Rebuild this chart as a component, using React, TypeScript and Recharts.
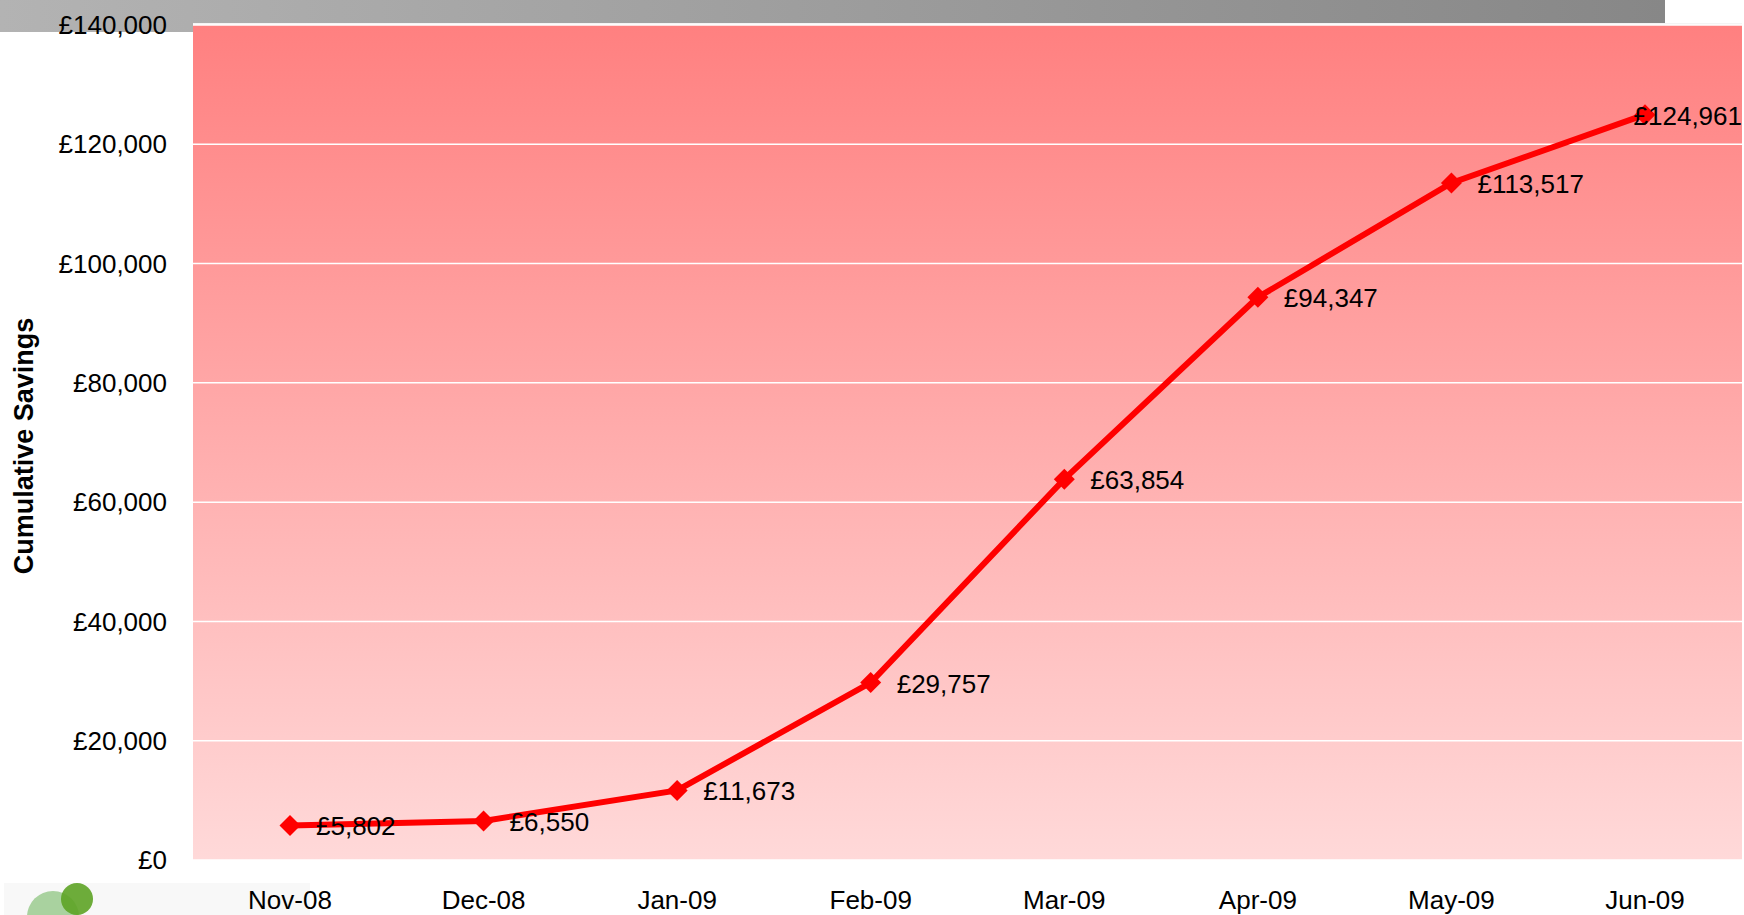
import React from 'react';
import {
  LineChart,
  Line,
  XAxis,
  YAxis,
  CartesianGrid,
  LabelList,
} from 'recharts';

const months = ['Nov-08', 'Dec-08', 'Jan-09', 'Feb-09', 'Mar-09', 'Apr-09', 'May-09', 'Jun-09'];
const savings = [5802, 6550, 11673, 29757, 63854, 94347, 113517, 124961];
const yTicks = [0, 20000, 40000, 60000, 80000, 100000, 120000, 140000];

const data = months.map((month, i) => ({ month, savings: savings[i] }));

const W = 1744;
const H = 915;
const PLOT_LEFT = 193;
const PLOT_TOP = 25;
const PLOT_RIGHT = 1742;
const PLOT_BOTTOM = 860;
const FONT = '"Liberation Sans", Arial, sans-serif';

const pound = (v: number) => '£' + v.toLocaleString('en-GB');

function YTick(props: any) {
  const { y, payload } = props;
  return (
    <text x={167} y={y} dy="0.35em" textAnchor="end" fontFamily={FONT} fontSize={26} fill="#000">
      {pound(payload.value)}
    </text>
  );
}

function XTick(props: any) {
  const { x, payload } = props;
  return (
    <text x={x} y={909} textAnchor="middle" fontFamily={FONT} fontSize={26} fill="#000">
      {payload.value}
    </text>
  );
}

function Diamond(props: any) {
  const { cx, cy } = props;
  if (cx == null || cy == null) return null;
  const r = 10.5;
  return (
    <path
      d={`M${cx},${cy - r} L${cx + r},${cy} L${cx},${cy + r} L${cx - r},${cy} Z`}
      fill="#FF0000"
    />
  );
}

function ValueLabel(props: any) {
  const { x, y, value } = props;
  const text = pound(value);
  const w = text.length * 0.53 * 26;
  let tx = x + 26;
  let anchor: 'start' | 'end' = 'start';
  if (tx + w > PLOT_RIGHT) {
    tx = PLOT_RIGHT;
    anchor = 'end';
  }
  return (
    <text x={tx} y={y + 1} dy="0.35em" textAnchor={anchor} fontFamily={FONT} fontSize={26} fill="#000">
      {text}
    </text>
  );
}

function AxisTitle() {
  return (
    <text
      x={24}
      y={446}
      transform="rotate(-90 24 446)"
      textAnchor="middle"
      dominantBaseline="central"
      fontFamily={FONT}
      fontSize={27}
      fontWeight="bold"
      fill="#000"
    >
      Cumulative Savings
    </text>
  );
}

export default function App() {
  return (
    <div style={{ position: 'absolute', left: 0, top: 0, width: W, height: H, background: '#fff', overflow: 'hidden' }}>
      {/* grey banner at top */}
      <div
        style={{
          position: 'absolute',
          left: 0,
          top: 0,
          width: 1665,
          height: 32,
          background: 'linear-gradient(to right, #b3b3b3, #878787)',
        }}
      />
      {/* plot background */}
      <div
        style={{
          position: 'absolute',
          left: PLOT_LEFT,
          top: PLOT_TOP - 2,
          width: PLOT_RIGHT - PLOT_LEFT,
          height: PLOT_BOTTOM - PLOT_TOP + 2,
          borderTop: '2px solid #f4f4f4',
          boxSizing: 'border-box',
          background: 'linear-gradient(to bottom, #ff8080, #ffd9d9)',
        }}
      />
      {/* logo corner */}
      <div style={{ position: 'absolute', left: 4, top: 883, width: 306, height: 32, background: '#f8f8f8' }} />
      <svg style={{ position: 'absolute', left: 0, top: 0 }} width={W} height={H}>
        <circle cx={53} cy={917} r={26} fill="#a9d29f" />
        <circle cx={77} cy={899} r={16} fill="#5da325" opacity={0.9} />
      </svg>
      <div style={{ position: 'absolute', left: 0, top: 0 }}>
        <LineChart
          width={W}
          height={H}
          data={data}
          margin={{ top: PLOT_TOP, right: W - PLOT_RIGHT, bottom: 0, left: 0 }}
        >
          <CartesianGrid vertical={false} stroke="#ffffff" strokeWidth={1.5} />
          <XAxis
            dataKey="month"
            height={H - PLOT_BOTTOM}
            axisLine={false}
            tickLine={false}
            tick={<XTick />}
            interval={0}
            padding={{ left: 97, right: 97 }}
          />
          <YAxis
            width={PLOT_LEFT}
            domain={[0, 140000]}
            ticks={yTicks}
            axisLine={false}
            tickLine={false}
            tick={<YTick />}
            label={<AxisTitle />}
          />
          <Line
            type="linear"
            dataKey="savings"
            stroke="#FF0000"
            strokeWidth={6}
            dot={<Diamond />}
            activeDot={false}
            isAnimationActive={false}
          >
            <LabelList dataKey="savings" content={<ValueLabel />} />
          </Line>
        </LineChart>
      </div>
    </div>
  );
}
